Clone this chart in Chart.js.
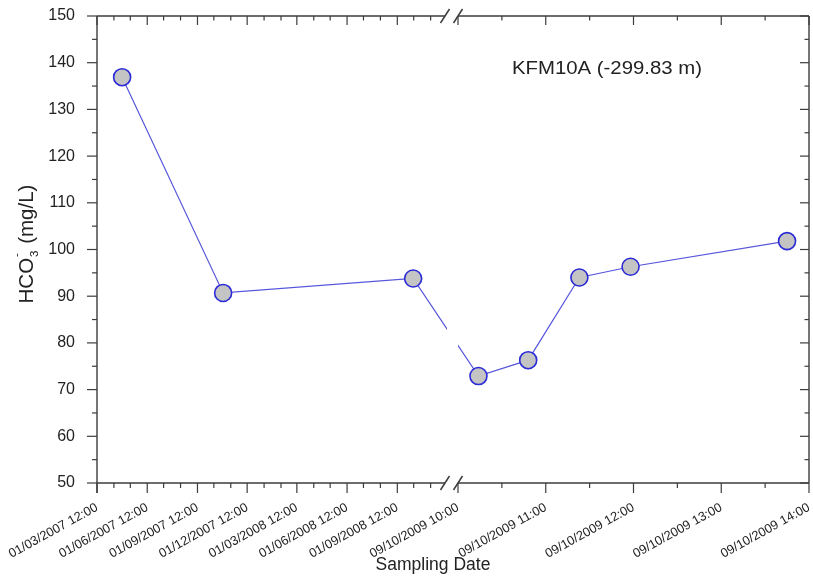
<!DOCTYPE html>
<html>
<head>
<meta charset="utf-8">
<script src="https://cdn.jsdelivr.net/npm/chart.js"></script>
<style>
  html, body { margin: 0; padding: 0; background: #fff; }
  #wrap { width: 813px; height: 586px; }
</style>
</head>
<body>
<div id="wrap"><canvas id="chart" width="813" height="586"></canvas></div>
<script>
// KFM10A (-299.83 m): bicarbonate per sampling date
const sampleTimes = [
  '16/04/2007 12:00', '18/10/2007 12:00', '30/09/2008 12:00',
  '09/10/2009 10:14', '09/10/2009 10:48', '09/10/2009 11:23',
  '09/10/2009 11:58', '09/10/2009 13:45'
];
const hco3Values = [136.9, 90.7, 93.8, 72.9, 76.3, 94.0, 96.3, 101.8];

const leftTickLabels = [
  '01/03/2007 12:00', '01/06/2007 12:00', '01/09/2007 12:00', '01/12/2007 12:00',
  '01/03/2008 12:00', '01/06/2008 12:00', '01/09/2008 12:00'
];
const leftAxisEnd = '01/12/2008 12:00';
const rightTickLabels = [
  '09/10/2009 10:00', '09/10/2009 11:00', '09/10/2009 12:00',
  '09/10/2009 13:00', '09/10/2009 14:00'
];
const yMin = 50, yMax = 150, yStep = 10;

const FONT = '"Liberation Sans", Arial, sans-serif';
const INK = '#222';
const AXIS = '#3c3c3c';

function parseStamp(s) {
  const [d, t] = s.split(' ');
  const [dd, mm, yy] = d.split('/').map(Number);
  const [hh, mi] = t.split(':').map(Number);
  return Date.UTC(yy, mm - 1, dd, hh, mi);
}

// broken time axis: months on the left, hours on the right
const LEFT_START = parseStamp(leftTickLabels[0]);
const LEFT_END = parseStamp(leftAxisEnd);
const RIGHT_START = parseStamp(rightTickLabels[0]);
const RIGHT_END = parseStamp(rightTickLabels[rightTickLabels.length - 1]);
const LEFT_W = 350, GAP = 11, RIGHT_W = 351;
const AXIS_MAX = LEFT_W + GAP + RIGHT_W;

function axisPos(t) {
  if (t <= LEFT_END) return (t - LEFT_START) / (LEFT_END - LEFT_START) * LEFT_W;
  return LEFT_W + GAP + (t - RIGHT_START) / (RIGHT_END - RIGHT_START) * RIGHT_W;
}

const tickLabels = leftTickLabels.concat(rightTickLabels);
const majorPos = tickLabels.map(s => axisPos(parseStamp(s)));

const minorPos = [];
for (let i = 1; i < 21; i++) {
  if (i % 3) minorPos.push(axisPos(Date.UTC(2007, 2 + i, 1, 12)));
}
for (let h = 0; h < 4; h++) {
  minorPos.push(axisPos(RIGHT_START + (h + 0.5) * 3600000));
}

const points = sampleTimes.map((s, i) => ({ x: axisPos(parseStamp(s)), y: hco3Values[i] }));

const frame = {
  id: 'frame',
  afterDatasetsDraw(chart) {
    const { ctx, chartArea: a, scales: { x, y } } = chart;
    const g0 = x.getPixelForValue(LEFT_W), g1 = x.getPixelForValue(LEFT_W + GAP);
    ctx.save();
    // blank the data line across the break
    ctx.fillStyle = '#fff';
    ctx.fillRect(g0, a.top + 1, g1 - g0, a.bottom - a.top - 2);

    ctx.strokeStyle = AXIS;
    ctx.lineWidth = 1.4;
    const seg = (x1, y1, x2, y2) => {
      ctx.beginPath(); ctx.moveTo(x1, y1); ctx.lineTo(x2, y2); ctx.stroke();
    };
    const s0 = g0 - 2, s1 = g1;
    // frame
    seg(a.left, a.top, a.left, a.bottom + 10);
    seg(a.right, a.top, a.right, a.bottom);
    seg(a.left, a.top, s0, a.top);
    seg(s1, a.top, a.right, a.top);
    seg(a.left, a.bottom, s0, a.bottom);
    seg(s1, a.bottom, a.right, a.bottom);

    // x ticks: out at the bottom, in at the top
    ctx.lineWidth = 1.2;
    majorPos.forEach(v => {
      const px = x.getPixelForValue(v);
      seg(px, a.bottom, px, a.bottom + 10);
      seg(px, a.top, px, a.top + 9);
    });
    minorPos.forEach(v => {
      const px = x.getPixelForValue(v);
      seg(px, a.bottom, px, a.bottom + 5);
      seg(px, a.top, px, a.top + 4.5);
    });
    // y ticks: out on the left, in on the right
    for (let v = yMin; v <= yMax; v += yStep / 2) {
      const py = y.getPixelForValue(v);
      const major = (v - yMin) % yStep === 0;
      seg(a.left - (major ? 10 : 5), py, a.left, py);
      seg(a.right - (major ? 9 : 4.5), py, a.right, py);
    }

    // break marks
    ctx.lineWidth = 1.5;
    [a.top, a.bottom].forEach(ay => {
      [s0, s1].forEach(cx => seg(cx - 4.5, ay + 7, cx + 4.5, ay - 7));
    });

    // axis titles
    ctx.fillStyle = INK;
    ctx.textBaseline = 'alphabetic';
    ctx.textAlign = 'center';
    ctx.font = '17.5px ' + FONT;
    ctx.fillText('Sampling Date', 433, 570);

    ctx.save();
    ctx.translate(33, 244);
    ctx.rotate(-Math.PI / 2);
    ctx.textAlign = 'left';
    const big = '20.5px ' + FONT, small = '11.5px ' + FONT;
    ctx.font = big;
    const wA = ctx.measureText('HCO').width;
    ctx.font = small;
    const wSub = ctx.measureText('3').width + 2;
    ctx.font = big;
    const wB = ctx.measureText(' (mg/L)').width;
    let cx = -(wA + wSub + wB) / 2;
    ctx.fillText('HCO', cx, 0);
    cx += wA;
    ctx.font = small;
    ctx.fillText('3', cx + 1, 5);
    ctx.fillText('-', cx + 1, -13);
    cx += wSub;
    ctx.font = big;
    ctx.fillText(' (mg/L)', cx, 0);
    ctx.restore();

    // well label, slightly widened
    ctx.save();
    ctx.font = '17.5px ' + FONT;
    ctx.textAlign = 'left';
    const label = 'KFM10A (-299.83 m)';
    const w = ctx.measureText(label).width;
    ctx.translate(512, 74);
    ctx.scale(190 / w, 1);
    ctx.fillText(label, 0, 0);
    ctx.restore();

    ctx.restore();
  }
};

new Chart(document.getElementById('chart'), {
  type: 'line',
  data: {
    datasets: [{
      data: points,
      borderColor: '#5656dc',
      borderWidth: 1.2,
      pointRadius: 8.5,
      pointHoverRadius: 8.5,
      pointBackgroundColor: '#c4c4c4',
      pointBorderColor: '#2a2ad6',
      pointBorderWidth: 1.6,
      tension: 0,
      clip: false
    }]
  },
  options: {
    responsive: false,
    animation: false,
    devicePixelRatio: 1,
    layout: { autoPadding: false, padding: { top: 16, right: 4, left: 0, bottom: 0 } },
    plugins: { legend: { display: false }, tooltip: { enabled: false } },
    scales: {
      x: {
        type: 'linear',
        min: 0,
        max: AXIS_MAX,
        grid: { display: false },
        border: { display: false },
        afterBuildTicks: s => { s.ticks = majorPos.map(v => ({ value: v })); },
        afterFit: s => {
          s.height = 103;
          s.paddingLeft = 0;
          s.paddingRight = 0;
        },
        ticks: {
          autoSkip: false,
          minRotation: 29,
          maxRotation: 29,
          padding: 9,
          color: INK,
          font: { family: FONT, size: 12.8 },
          callback: (v, i) => tickLabels[i]
        }
      },
      y: {
        min: yMin,
        max: yMax,
        grid: { display: false },
        border: { display: false },
        afterFit: s => {
          s.width = 97;
          s.paddingTop = 0;
          s.paddingBottom = 0;
        },
        ticks: {
          stepSize: yStep,
          padding: 14,
          color: INK,
          font: { family: FONT, size: 16 }
        }
      }
    }
  },
  plugins: [frame]
});
</script>
</body>
</html>
